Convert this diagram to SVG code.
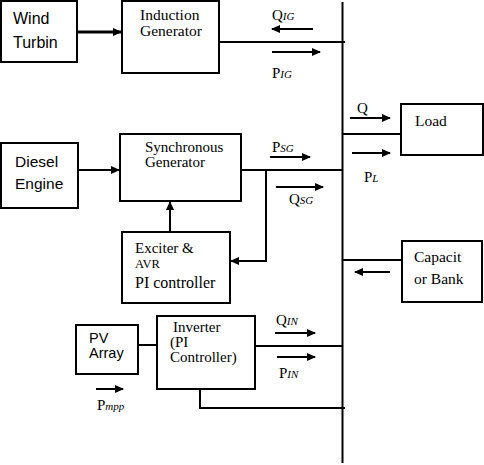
<svg xmlns="http://www.w3.org/2000/svg" width="484" height="465" viewBox="0 0 484 465">
<style>
.box{fill:#fff;stroke:#000;stroke-width:2}
.ln{fill:none;stroke:#000;stroke-width:2}
.ar{fill:none;stroke:#000;stroke-width:2;marker-end:url(#ah)}
</style>
<defs>
<marker id="ah" markerWidth="9" markerHeight="8" refX="8" refY="4" orient="auto" markerUnits="userSpaceOnUse">
<path d="M0,0 L9,4 L0,8 Z" fill="#000"/>
</marker>
</defs>
<rect width="484" height="465" fill="#fff"/>
<g id="connectors">
<line class="ln" x1="342.5" y1="2" x2="342.5" y2="463"/>
<line x1="77" y1="32" x2="121" y2="32" stroke="#000" stroke-width="3" marker-end="url(#ah)"/>
<line class="ln" x1="219" y1="42" x2="345" y2="42"/>
<line class="ar" x1="313" y1="29" x2="272" y2="29"/>
<line class="ar" x1="272" y1="52" x2="320" y2="52"/>
<line class="ar" x1="73" y1="170" x2="119" y2="170"/>
<line class="ln" x1="241" y1="170" x2="343" y2="170"/>
<line class="ar" x1="270" y1="157" x2="310" y2="157"/>
<line class="ar" x1="276" y1="187" x2="323" y2="187"/>
<polyline class="ln" points="266,170 266,261 248,261"/>
<line class="ar" x1="248" y1="261" x2="231" y2="261"/>
<line class="ar" x1="170" y1="233" x2="170" y2="202"/>
<line class="ln" x1="343" y1="134" x2="401" y2="134"/>
<line class="ar" x1="350" y1="118" x2="390" y2="118"/>
<line class="ar" x1="352" y1="153" x2="390" y2="153"/>
<line class="ln" x1="343" y1="260" x2="401" y2="260"/>
<line class="ar" x1="390" y1="272" x2="355" y2="272"/>
<line class="ln" x1="138" y1="345" x2="157" y2="345"/>
<line class="ln" x1="255" y1="346" x2="343" y2="346"/>
<line class="ar" x1="275" y1="333" x2="315" y2="333"/>
<line class="ar" x1="277" y1="357" x2="315" y2="357"/>
<polyline class="ln" points="200,389 200,408 345,408"/>
<line class="ar" x1="96" y1="389" x2="123" y2="389"/>
</g>
<g id="labels">
<text x="272" y="20" font-family="Liberation Serif, serif" font-size="15">Q<tspan font-style="italic" font-size="11">IG</tspan></text>
<text x="272" y="78" font-family="Liberation Serif, serif" font-size="15">P<tspan font-style="italic" font-size="11">IG</tspan></text>
<text x="272" y="152" font-family="Liberation Serif, serif" font-size="15">P<tspan font-style="italic" font-size="11">SG</tspan></text>
<text x="289" y="204" font-family="Liberation Serif, serif" font-size="15">Q<tspan font-style="italic" font-size="11">SG</tspan></text>
<text x="357" y="113" font-family="Liberation Serif, serif" font-size="15">Q</text>
<text x="364" y="182" font-family="Liberation Serif, serif" font-size="15">P<tspan font-style="italic" font-size="11">L</tspan></text>
<text x="276" y="325" font-family="Liberation Serif, serif" font-size="15">Q<tspan font-style="italic" font-size="11">IN</tspan></text>
<text x="279" y="378" font-family="Liberation Serif, serif" font-size="15">P<tspan font-style="italic" font-size="11">IN</tspan></text>
<text x="97" y="410" font-family="Liberation Serif, serif" font-size="15">P<tspan font-style="italic" font-size="11">mpp</tspan></text>
</g>
<g id="wind">
<rect class="box" x="1" y="1" width="76" height="61"/>
<text x="13" y="24" font-family="Liberation Sans, sans-serif" font-size="16">Wind</text>
<text x="13" y="48" font-family="Liberation Sans, sans-serif" font-size="16">Turbin</text>
</g>
<g id="induction">
<rect class="box" x="122" y="1" width="97" height="72"/>
<text x="140" y="20" font-family="Liberation Serif, serif" font-size="15.5">Induction</text>
<text x="140" y="36" font-family="Liberation Serif, serif" font-size="15.5">Generator</text>
</g>
<g id="diesel">
<rect class="box" x="1" y="143" width="77" height="65"/>
<text x="15" y="167" font-family="Liberation Sans, sans-serif" font-size="15.5">Diesel</text>
<text x="15" y="189" font-family="Liberation Sans, sans-serif" font-size="15.5">Engine</text>
</g>
<g id="synchronous">
<rect class="box" x="120" y="134" width="121" height="67"/>
<text x="145" y="152" font-family="Liberation Serif, serif" font-size="15">Synchronous</text>
<text x="145" y="167" font-family="Liberation Serif, serif" font-size="15">Generator</text>
</g>
<g id="exciter">
<rect class="box" x="122" y="232" width="108" height="71"/>
<text x="135" y="253" font-family="Liberation Serif, serif" font-size="15">Exciter &amp;</text>
<text x="135" y="268" font-family="Liberation Serif, serif" font-size="12.5">AVR</text>
<text x="135" y="288" font-family="Liberation Serif, serif" font-size="16">PI controller</text>
</g>
<g id="load">
<rect class="box" x="401" y="104" width="82" height="51"/>
<text x="415" y="126" font-family="Liberation Serif, serif" font-size="15.5">Load</text>
</g>
<g id="capacitor">
<rect class="box" x="402" y="241" width="80" height="61"/>
<text x="414" y="262" font-family="Liberation Serif, serif" font-size="15.5">Capacit</text>
<text x="414" y="284" font-family="Liberation Serif, serif" font-size="15.5">or Bank</text>
</g>
<g id="pv">
<rect class="box" x="76" y="325" width="62" height="49"/>
<text x="89" y="343" font-family="Liberation Sans, sans-serif" font-size="14.5">PV</text>
<text x="89" y="358" font-family="Liberation Sans, sans-serif" font-size="14.5">Array</text>
</g>
<g id="inverter">
<rect class="box" x="157" y="316" width="98" height="73"/>
<text x="173" y="332" font-family="Liberation Serif, serif" font-size="15">Inverter</text>
<text x="170" y="347" font-family="Liberation Serif, serif" font-size="15">(PI</text>
<text x="170" y="362" font-family="Liberation Serif, serif" font-size="15">Controller)</text>
</g>
</svg>
